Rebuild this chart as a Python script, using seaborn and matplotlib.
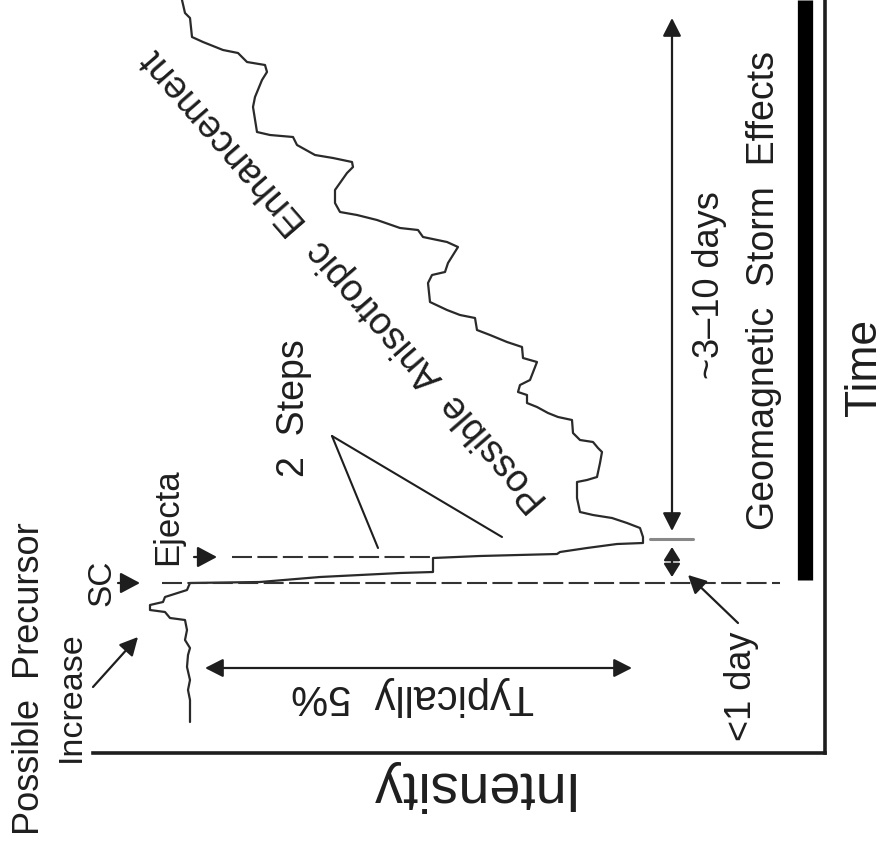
import matplotlib
matplotlib.use("Agg")
import matplotlib.pyplot as plt
import pandas as pd
import seaborn as sns

# Schematic cosmic-ray intensity record (Forbush decrease)
# time: days relative to the storm sudden commencement (SC)
# intensity: relative intensity in percent
time_days = [-1.39, -1.17, -1.07, -0.97, -0.84, -0.72, -0.65, -0.57, -0.47, -0.37,
             -0.35, -0.29, -0.27, -0.22, -0.19, -0.14, -0.07, 0.00, 0.01, 0.06,
             0.10, 0.11, 0.25, 0.27, 0.29, 0.31, 0.35, 0.39, 0.40, 0.46,
             0.55, 0.60, 0.65, 0.68, 0.71, 0.85, 1.01, 1.03, 1.06, 1.20,
             1.31, 1.35, 1.41, 1.43, 1.50, 1.63, 1.66, 1.70, 1.76, 1.80,
             1.88, 1.91, 1.98, 2.03, 2.21, 2.25, 2.36, 2.41, 2.48, 2.53,
             2.65, 2.68, 2.73, 2.81, 3.00, 3.08, 3.11, 3.20, 3.28, 3.36,
             3.41, 3.46, 3.53, 3.55, 3.63, 3.68, 3.71, 3.80, 3.93, 4.10,
             4.16, 4.21, 4.25, 4.28, 4.38, 4.46, 4.48, 4.51, 4.76, 4.86,
             5.03, 5.11, 5.18, 5.21, 5.30, 5.33, 5.41, 5.46, 5.65, 5.70, 5.83]
intensity_pct = [100.00, 100.00, 100.02, 100.00, 100.03, 100.02, 100.00, 100.05, 100.03, 100.05,
                 100.20, 100.25, 100.40, 100.40, 100.27, 100.25, 100.03, 100.00, 99.30, 98.70,
                 97.90, 97.57, 97.57, 97.10, 96.33, 96.30, 96.03, 95.73, 95.47, 95.47,
                 95.50, 95.63, 95.78, 95.97, 96.10, 96.13, 96.13, 96.03, 95.93, 95.90,
                 95.88, 95.92, 95.97, 96.10, 96.17, 96.18, 96.32, 96.42, 96.53, 96.63,
                 96.63, 96.72, 96.70, 96.60, 96.53, 96.67, 96.68, 96.83, 97.00, 97.13,
                 97.15, 97.30, 97.43, 97.60, 97.62, 97.58, 97.45, 97.42, 97.37, 97.32,
                 97.43, 97.67, 97.72, 97.90, 98.13, 98.33, 98.50, 98.55, 98.55, 98.43,
                 98.37, 98.38, 98.57, 98.75, 98.93, 98.97, 99.20, 99.33, 99.37, 99.35,
                 99.28, 99.23, 99.25, 99.43, 99.52, 99.67, 99.87, 99.98, 100.00, 100.05, 100.08]

df = pd.DataFrame({"time": time_days, "intensity": intensity_pct})

sns.set_style("white")
plt.rcParams["font.family"] = ["Liberation Sans", "DejaVu Sans"]

INK = "#1e1e1e"
fig = plt.figure(figsize=(8.89, 8.46), dpi=100)
ax = fig.add_axes([93 / 889, 93 / 846, 732 / 889, 753 / 846])

sns.lineplot(data=df, x="intensity", y="time", sort=False, estimator=None,
             color="#2a2a2a", lw=1.6, ax=ax)

ax.set_xlim(100.97, 93.65)
ax.set_ylim(-1.70, 5.83)
ax.set_xticks([])
ax.set_yticks([])
ax.set_xlabel("")
ax.set_ylabel("")
for side in ("left", "top"):
    ax.spines[side].set_visible(False)
for side in ("bottom", "right"):
    ax.spines[side].set_visible(True)
    ax.spines[side].set_linewidth(2.6)
    ax.spines[side].set_color(INK)

dash = (0, (9.6, 2.6))
# dashed markers for SC and ejecta arrival
ax.plot([100.28, 94.10], [0.0, 0.0], color="#333333", lw=1.5, ls=dash)
ax.plot([99.58, 97.57], [0.26, 0.26], color="#333333", lw=1.5, ls=dash)

# geomagnetic storm bar
ax.plot([93.855, 93.855], [0.03, 5.83], color="black", lw=11, solid_capstyle="butt")


def darrow(p0, p1, hl=0.55, hw=0.28, style="<|-|>"):
    ax.annotate("", xy=p1, xytext=p0,
                arrowprops=dict(arrowstyle=f"{style},head_length={hl},head_width={hw}",
                                color=INK, lw=1.6, shrinkA=0, shrinkB=0,
                                mutation_scale=20))


# typically 5% range
darrow((99.85, -0.85), (95.58, -0.85))
# ~3-10 days
darrow((95.18, 0.52), (95.18, 5.65))
ax.plot([95.40, 94.97], [0.44, 0.44], color="#888888", lw=2.2)
# <1 day
darrow((95.18, 0.36), (95.18, 0.06), hl=0.4, hw=0.25)
# arrow from "<1 day"
darrow((94.52, -0.40), (95.02, 0.08), style="-|>")
# precursor arrow
darrow((100.97, -1.04), (100.52, -0.54), style="-|>")
# SC and Ejecta pointers
darrow((100.72, 0.0), (100.50, 0.0), style="-|>", hl=0.6, hw=0.32)
darrow((99.96, 0.26), (99.73, 0.26), style="-|>", hl=0.6, hw=0.32)
# "2 Steps" leader lines
ax.plot([98.58, 98.12], [1.47, 0.35], color=INK, lw=1.5)
ax.plot([98.58, 96.88], [1.47, 0.46], color=INK, lw=1.5)


def label(x, y, s, size, rot, va="baseline"):
    ax.text(x, y, s, fontsize=size, rotation=rot, rotation_mode="anchor",
            ha="center", va=va, color=INK, clip_on=False)


label(97.23, -1.89, "Intensity", 40, 180)
label(93.14, 2.16, "Time", 32, 90)
label(94.16, 2.92, "Geomagnetic  Storm  Effects", 27, 90)
label(94.71, 2.98, "~3–10 days", 26, 90)
label(94.39, -1.03, "<1 day", 26, 90)
label(101.51, -0.96, "Possible  Precursor", 26, 90)
label(101.10, -1.14, "Increase", 24.5, 90)
label(100.80, 0.0, "SC", 24, 90)
label(100.13, 0.66, "Ejecta", 25, 90)
label(98.86, 1.75, "2  Steps", 27, 90)
label(97.77, -1.02, "Typically  5%", 30, 180)
label(98.45, 3.03, "Possible  Anisotropic  Enhancement", 27, 131, va="center")

fig.savefig("out.png", dpi=100)
